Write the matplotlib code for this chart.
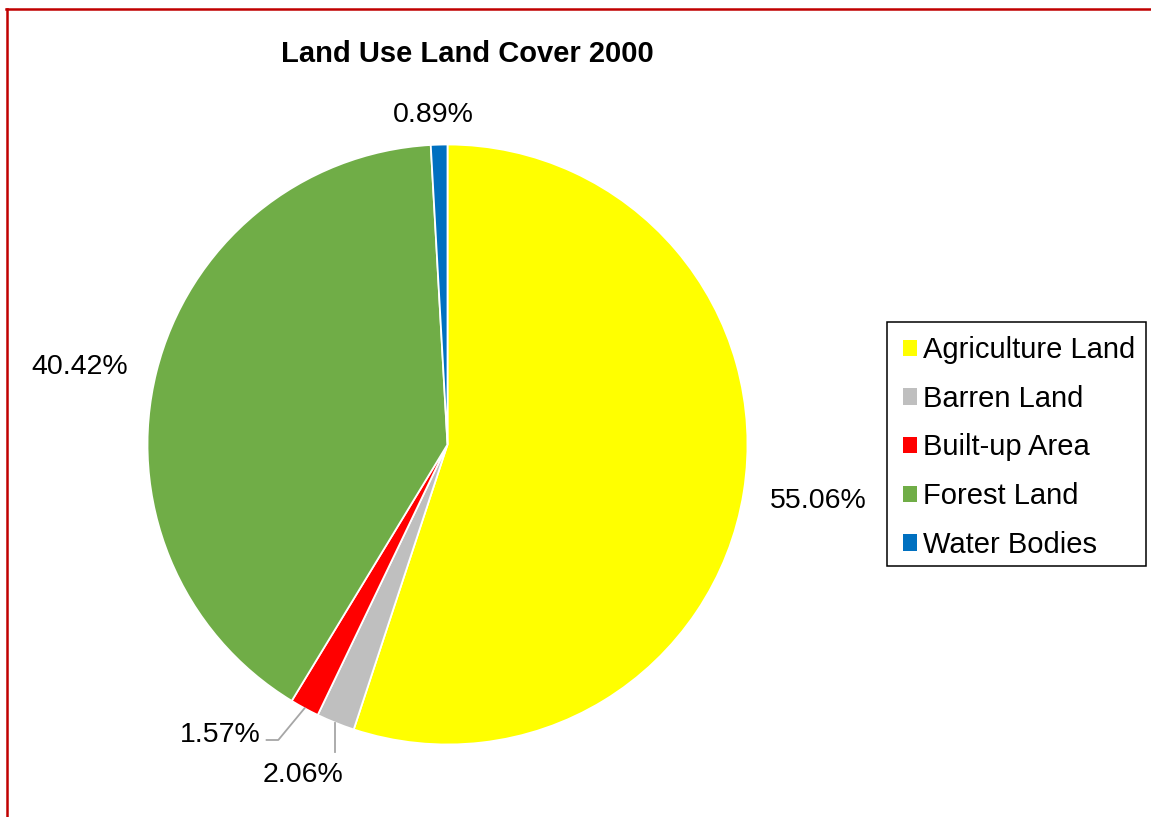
import numpy as np
import matplotlib
matplotlib.use("Agg")
import matplotlib.pyplot as plt
from matplotlib.lines import Line2D
from matplotlib.patches import Rectangle

plt.rcParams['font.family'] = ['Liberation Sans', 'DejaVu Sans']

# land cover shares for 2000 (%)
classes = ['Agriculture Land', 'Barren Land', 'Built-up Area', 'Forest Land', 'Water Bodies']
shares = [55.06, 2.06, 1.57, 40.42, 0.89]
colors = ['#FFFF00', '#BFBFBF', '#FF0000', '#70AD47', '#0070C0']

# where each percentage label sits (pie radius = 1)
label_xy = [(1.235, -0.213), (-0.482, -1.124), (-0.757, -0.991), (-1.226, 0.234), (-0.048, 1.076)]

W, H = 1151, 817
fig = plt.figure(figsize=(W / 100, H / 100), dpi=100)
ax = fig.add_axes([0, 0, 1, 1])

# pie centre at pixel (447.5, 444.5), radius 300 px
cx, cy, r = 447.5, 444.5, 300.0
wedges, _ = ax.pie(shares, colors=colors, startangle=90, counterclock=False, radius=1,
                   wedgeprops=dict(edgecolor='white', linewidth=1.3))
ax.set_aspect('auto')
ax.set_xlim(-cx / r, (W - cx) / r)
ax.set_ylim(-(H - cy) / r, cy / r)
ax.axis('off')

for val, (lx, ly) in zip(shares, label_xy):
    ax.text(lx, ly, f'{val:.2f}%', ha='center', va='baseline', fontsize=20.5, color='black')

# leader lines for the two thin slices
cum = np.cumsum([0] + shares)
def edge_point(i):
    mid = 90 - 3.6 * (cum[i] + shares[i] / 2)
    return np.cos(np.radians(mid)), np.sin(np.radians(mid))

x0, y0 = edge_point(2)
ax.plot([x0, -0.564, -0.603], [y0, -0.985, -0.985], color='#A6A6A6', lw=1.3)
x1, y1 = edge_point(1)
ax.plot([x1, x1], [y1, -1.024], color='#A6A6A6', lw=1.3)

fig.text(467.5 / W, 1 - 62 / H, 'Land Use Land Cover 2000', ha='center', va='baseline',
         fontsize=21, fontweight='bold')

leg = ax.legend(wedges, classes, loc='upper left', bbox_to_anchor=(892 / W, 1 - 325 / H),
                bbox_transform=fig.transFigure, fontsize=21, frameon=False,
                handlelength=0.48, handleheight=0.48, handletextpad=0.2,
                labelspacing=0.71, borderpad=0.38, borderaxespad=0)
for h in leg.legend_handles:
    h.set_edgecolor('none')

# legend box
fig.add_artist(Rectangle((887 / W, 1 - 566 / H), (1146 - 887) / W, (566 - 322) / H,
                         transform=fig.transFigure, fill=False, edgecolor='black', lw=1.1))

# chart border (red, open to the right and bottom)
bx, by = 7 / W, 1 - 8.5 / H
fig.add_artist(Line2D([bx, bx], [0, by], transform=fig.transFigure, color='#C00000', lw=1.8))
fig.add_artist(Line2D([bx - 0.001, 1], [by, by], transform=fig.transFigure, color='#C00000', lw=1.8))

fig.savefig('out.png', dpi=100, facecolor='white')
